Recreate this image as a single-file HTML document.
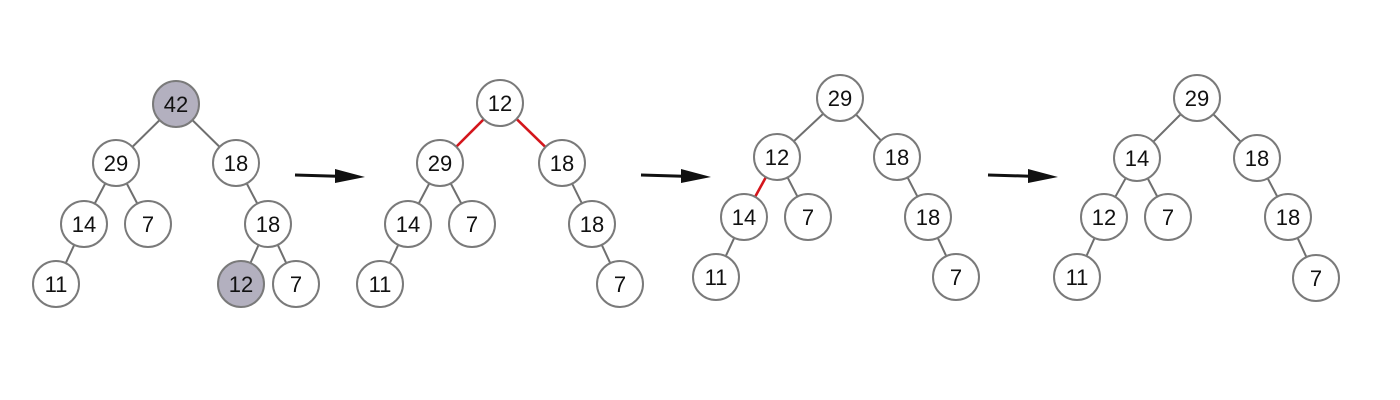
<!DOCTYPE html>
<html><head><meta charset="utf-8"><style>
html,body{margin:0;padding:0;background:#fff;width:1400px;height:400px;overflow:hidden}
svg text{font-family:"Liberation Sans","DejaVu Sans",sans-serif;font-size:22px;fill:#111}
</style></head><body>
<svg id="chart" width="1400" height="400" xmlns="http://www.w3.org/2000/svg">
</svg>
<script>
const nodeLabels=[
 ["42","29","18","14","7","18","11","12","7"],
 ["12","29","18","14","7","18","11","7"],
 ["29","12","18","14","7","18","11","7"],
 ["29","14","18","12","7","18","11","7"]];
const nodeX=[[176,116,236,84,148,268,56,241,296],[500,440,562,408,472,592,380,620],[840,777,897,744,808,928,716,956],[1197,1137,1257,1104,1168,1288,1077,1316]];
const nodeY=[[104,163,163,224,224,224,284,284,284],[103,163,163,224,224,224,284,284],[98,157,157,217,217,217,277,277],[98,158,158,217,217,217,277,278]];
const edges=[[[0,1],[0,2],[1,3],[1,4],[2,5],[3,6],[5,7],[5,8]],[[0,1],[0,2],[1,3],[1,4],[2,5],[3,6],[5,7]],[[0,1],[0,2],[1,3],[1,4],[2,5],[3,6],[5,7]],[[0,1],[0,2],[1,3],[1,4],[2,5],[3,6],[5,7]]];
const redEdges=[[],[0,1],[2],[]];
const grayNodes=[[0,7],[],[],[]];
const arrowsX=[[295,365],[641,711],[988,1058]];
const arrowY=[175,175,175];
const R=23,NS="http://www.w3.org/2000/svg",svg=document.getElementById('chart');
function mk(t,a,p){const e=document.createElementNS(NS,t);for(const k in a)e.setAttribute(k,a[k]);(p||svg).appendChild(e);return e;}
arrowsX.forEach((a,i)=>{
 const g=mk('g',{});
 
 
 const y=arrowY[i],hx=a[1]-30;
 mk('line',{x1:a[0],y1:y,x2:hx+2,y2:y+1.2,stroke:'#111','stroke-width':3},g);
 mk('polygon',{points:`${hx},${y-6} ${a[1]},${y+2} ${hx},${y+8}`,fill:'#111'},g);
});
nodeLabels.forEach((labels,t)=>{
 const g=mk('g',{});
 
 
 edges[t].forEach((e,i)=>{
  const [a,b]=e,dx=nodeX[t][b]-nodeX[t][a],dy=nodeY[t][b]-nodeY[t][a],d=Math.hypot(dx,dy);
  const red=redEdges[t].includes(i);
  const l=mk('line',{x1:nodeX[t][a]+dx/d*R,y1:nodeY[t][a]+dy/d*R,x2:nodeX[t][b]-dx/d*R,y2:nodeY[t][b]-dy/d*R,stroke:red?'#d4161c':'#6f6f6f','stroke-width':red?2.6:2},g);
  
  
 });
 labels.forEach((lab,i)=>{
  const c=mk('circle',{cx:nodeX[t][i],cy:nodeY[t][i],r:R,fill:grayNodes[t].includes(i)?'#b3b0bf':'#fff',stroke:'#7a7a7a','stroke-width':2},g);
  
  
  const tx=mk('text',{x:nodeX[t][i],y:nodeY[t][i]+8,'text-anchor':'middle'},g);
  tx.textContent=lab;
  
  
 });
});
</script>
</body></html>
